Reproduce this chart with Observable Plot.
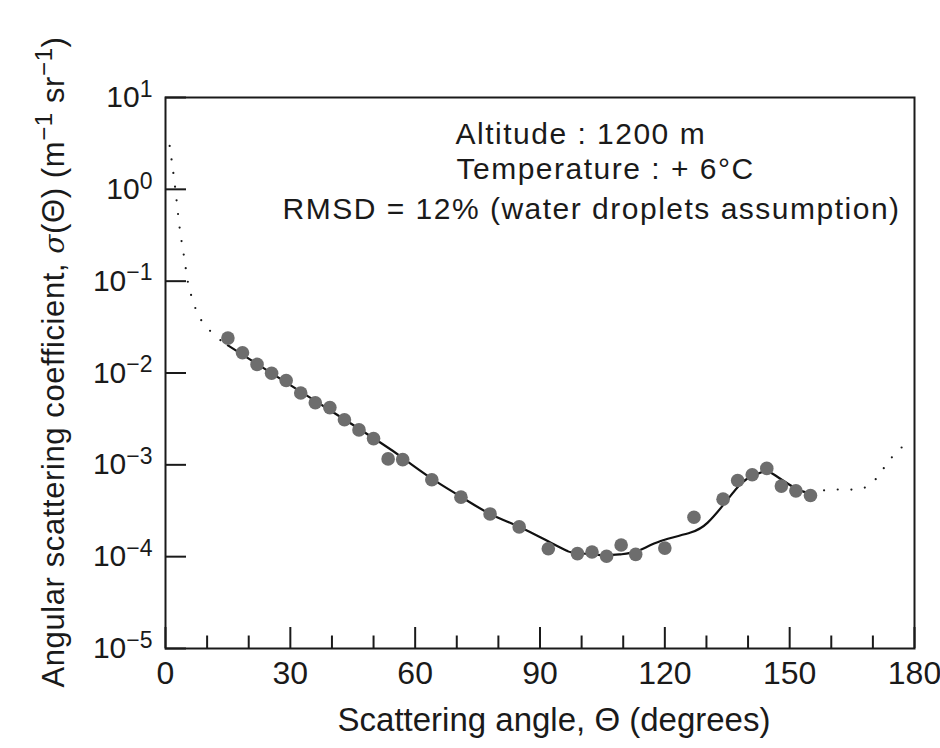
<!DOCTYPE html>
<html>
<head>
<meta charset="utf-8">
<script src="https://cdn.jsdelivr.net/npm/d3@7"></script>
<script src="https://cdn.jsdelivr.net/npm/@observablehq/plot@0.6"></script>
<style>
  html, body { margin: 0; padding: 0; background: #fff; }
  #chart svg { display: block; }
</style>
</head>
<body>
<div id="chart"></div>
<script>
// Measured angular scattering coefficient (grey dots)
const measuredAngles = [15, 18.5, 22, 25.5, 29, 32.5, 36, 39.5, 43, 46.5, 50, 53.5, 57, 64, 71, 78, 85, 92, 99, 102.5, 106, 109.5, 113, 120, 127, 134, 137.5, 141, 144.5, 148, 151.5, 155];
const measuredValues = [2.40e-2, 1.66e-2, 1.24e-2, 9.95e-3, 8.28e-3, 6.05e-3, 4.74e-3, 4.20e-3, 3.10e-3, 2.40e-3, 1.93e-3, 1.16e-3, 1.14e-3, 6.88e-4, 4.45e-4, 2.92e-4, 2.11e-4, 1.22e-4, 1.08e-4, 1.125e-4, 1.01e-4, 1.34e-4, 1.06e-4, 1.24e-4, 2.69e-4, 4.23e-4, 6.76e-4, 7.80e-4, 9.14e-4, 5.87e-4, 5.21e-4, 4.63e-4];

// Fitted model within the measured range (solid line)
const fitAngles = [15, 30, 40, 51.7, 57, 64, 71, 78, 85.1, 92.6, 96.6, 98.2, 104.6, 109.4, 113.4, 119, 126.2, 130.3, 134.2, 138.2, 141.1, 143.9, 146.3, 151.1, 155.1];
const fitValues = [2.0e-2, 7.38e-3, 3.81e-3, 1.74e-3, 1.19e-3, 7.08e-4, 4.49e-4, 2.92e-4, 2.11e-4, 1.42e-4, 1.15e-4, 1.11e-4, 1.04e-4, 1.06e-4, 1.15e-4, 1.48e-4, 1.83e-4, 2.35e-4, 3.73e-4, 6.17e-4, 7.60e-4, 8.47e-4, 7.80e-4, 5.66e-4, 4.80e-4];

// Model extrapolation outside the measured range (dotted lines)
const forwardAngles = [1.0, 2.3, 3.4, 4.4, 5.4, 6.25, 7.35, 9.2, 12.4, 15];
const forwardValues = [2.97, 1.06, 0.381, 0.192, 0.0966, 0.0684, 0.0485, 0.0344, 0.0244, 0.0200];
const backwardAngles = [155.1, 158.6, 162.0, 165.3, 168.6, 171.6, 173.8, 177.0];
const backwardValues = [4.80e-4, 5.31e-4, 5.38e-4, 5.38e-4, 5.81e-4, 7.85e-4, 1.10e-3, 1.56e-3];

// Axes
const xMajorTicks = [0, 30, 60, 90, 120, 150, 180];
const xMinorTicks = [10, 20, 40, 50, 70, 80, 100, 110, 130, 140, 160, 170];
const yTicks = [1e1, 1e0, 1e-1, 1e-2, 1e-3, 1e-4, 1e-5];
const yTickExponents = ["1", "0", "\u22121", "\u22122", "\u22123", "\u22124", "\u22125"];
const xLabel = "Scattering angle, \u0398 (degrees)";
const yLabel = "Angular scattering coefficient, \u03c3(\u0398) (m\u22121 sr\u22121)";
const annotationLines = ["Altitude : 1200 m", "Temperature : + 6\u00b0C", "RMSD = 12% (water droplets assumption)"];

const measured = measuredAngles.map((a, i) => ({angle: a, value: measuredValues[i]}));
const fit = fitAngles.map((a, i) => ({angle: a, value: fitValues[i]}));
const forward = forwardAngles.map((a, i) => ({angle: a, value: forwardValues[i]}));
const backward = backwardAngles.map((a, i) => ({angle: a, value: backwardValues[i]}));

const ink = "#1a1a1a";
const fontFamily = "'Liberation Sans', Arial, Helvetica, sans-serif";

const chart = Plot.plot({
  width: 940,
  height: 748,
  marginLeft: 165,
  marginRight: 26,
  marginTop: 97,
  marginBottom: 100,
  style: {fontFamily, fontSize: "30px", color: ink, background: "#fff"},
  x: {domain: [0, 180]},
  y: {type: "log", domain: [1e-5, 1e1]},
  marks: [
    // dotted model extrapolations
    Plot.line(forward, {x: "angle", y: "value", curve: "natural", stroke: ink, strokeWidth: 2.2, strokeDasharray: "0,13.7", strokeLinecap: "round"}),
    Plot.line(backward, {x: "angle", y: "value", curve: "natural", stroke: ink, strokeWidth: 2.2, strokeDasharray: "0,13.7", strokeLinecap: "round"}),
    // fitted model
    Plot.line(fit, {x: "angle", y: "value", curve: "natural", stroke: "#111", strokeWidth: 2.2}),
    // measurements
    Plot.dot(measured, {x: "angle", y: "value", r: 6.8, fill: "#6d6d6d", stroke: "none"}),
    // inward ticks
    Plot.ruleX(xMajorTicks, {x: d => d, y1: 1e-5, y2: 1e-5, insetTop: -21, stroke: ink, strokeWidth: 2}),
    Plot.ruleX(xMinorTicks, {x: d => d, y1: 1e-5, y2: 1e-5, insetTop: -12.5, stroke: ink, strokeWidth: 2}),
    Plot.ruleY(yTicks, {y: d => d, x1: 0, x2: 0, insetRight: -21, stroke: ink, strokeWidth: 2}),
    // tick labels
    Plot.axisX({ticks: xMajorTicks, tickSize: 0, tickPadding: 13, fontSize: 32, label: null, tickFormat: d => String(d)}),
    Plot.axisY({ticks: yTicks, tickSize: 0, tickPadding: 13, fontSize: 30, label: null,
      tickFormat: d => "10^" + yTickExponents[yTicks.indexOf(d)]}),
    Plot.frame({stroke: ink, strokeWidth: 2}),
    // axis titles
    Plot.text([xLabel], {frameAnchor: "bottom", dx: 14, dy: 82, lineAnchor: "bottom", fontSize: 33, fill: ink}),
    Plot.text([yLabel], {frameAnchor: "left", dx: -102, dy: -11, rotate: -90, textAnchor: "middle", lineAnchor: "bottom", fontSize: 31, fill: ink}),
    // annotations
    Plot.text([annotationLines[0]], {frameAnchor: "top-left", dx: 290, dy: 46, textAnchor: "start", lineAnchor: "bottom", fontSize: 30, fill: ink}),
    Plot.text([annotationLines[1]], {frameAnchor: "top-left", dx: 291, dy: 81, textAnchor: "start", lineAnchor: "bottom", fontSize: 30, fill: ink}),
    Plot.text([annotationLines[2]], {frameAnchor: "top-left", dx: 117, dy: 121, textAnchor: "start", lineAnchor: "bottom", fontSize: 30, fill: ink})
  ]
});

document.getElementById("chart").appendChild(chart);

const allTexts = d3.select(chart).selectAll("text");

// Superscript exponents on the y tick labels
allTexts.filter(function() { return this.textContent.startsWith("10^"); }).each(function() {
  const t = d3.select(this);
  const parts = t.text().split("^");
  t.text(parts[0]);
  t.append("tspan").attr("dy", "-0.45em").attr("font-size", "23px").text(parts[1]);
});

// Rich y-axis title: italic sigma and superscripts
allTexts.filter(function() { return this.textContent === yLabel; }).each(function() {
  const t = d3.select(this);
  t.text("");
  t.attr("letter-spacing", "0.6px");
  t.append("tspan").text("Angular scattering coefficient, ");
  t.append("tspan").attr("font-style", "italic").attr("font-family", "'DejaVu Serif', serif").attr("font-size", "28px").text("\u03c3");
  t.append("tspan").text("(\u0398) (m");
  t.append("tspan").attr("dy", "-12").attr("font-size", "24px").text("\u22121");
  t.append("tspan").attr("dy", "12").text(" sr");
  t.append("tspan").attr("dy", "-12").attr("font-size", "24px").text("\u22121");
  t.append("tspan").attr("dy", "12").text(")");
});

allTexts.filter(function() { return annotationLines.includes(this.textContent); }).attr("letter-spacing", "1.5px");
</script>
</body>
</html>
